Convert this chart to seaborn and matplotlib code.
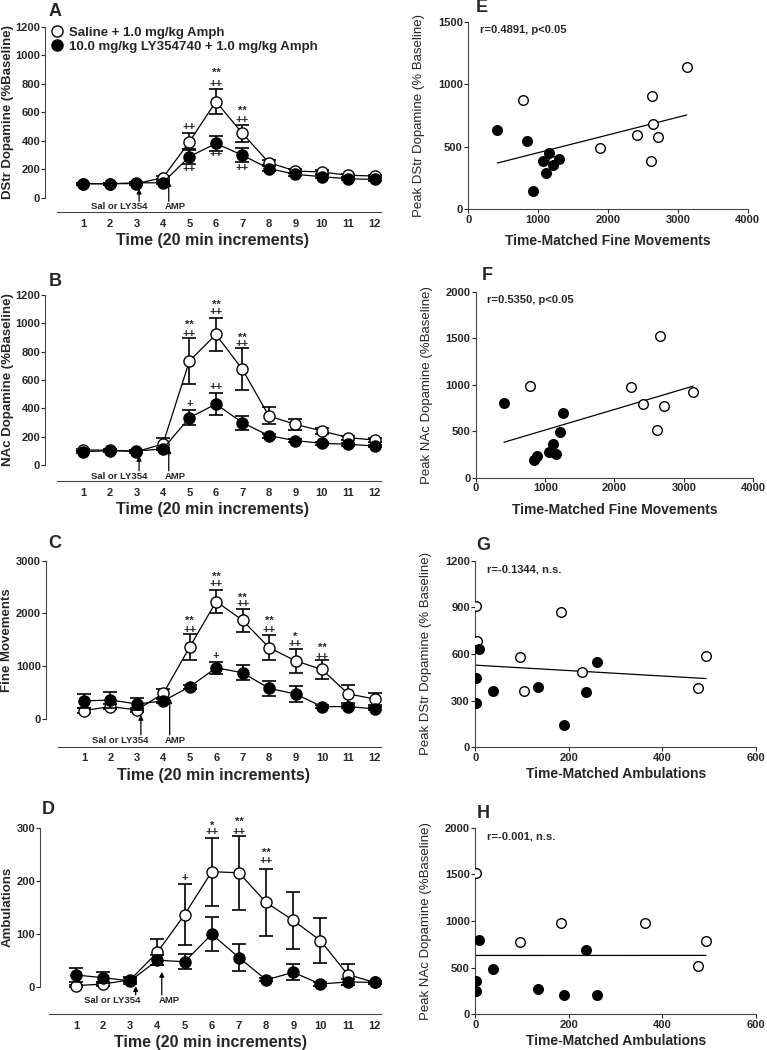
import numpy as np
import pandas as pd
import seaborn as sns
import matplotlib.pyplot as plt
from matplotlib.lines import Line2D

sns.set_style("ticks")
plt.rcParams['font.family'] = ['Liberation Sans', 'DejaVu Sans']
plt.rcParams['font.weight'] = 'bold'

# ---------------- data ----------------
time = list(range(1, 13))
groups = ["Saline + 1.0 mg/kg Amph", "10.0 mg/kg LY354740 + 1.0 mg/kg Amph"]

# A: DStr dopamine (% baseline)
dstr_sal = [99, 99, 100, 141, 393, 675, 452, 247, 188, 181, 158, 153]
dstr_sal_se = [8, 8, 8, 12, 60, 90, 58, 15, 12, 12, 10, 10]
dstr_ly = [99, 99, 105, 106, 289, 381, 299, 205, 165, 148, 134, 129]
dstr_ly_se = [8, 8, 8, 10, 50, 52, 50, 15, 12, 10, 10, 10]
dstr_marks = [(5, 494, "++"), (5, 200, "++"), (6, 878, "**"), (6, 800, "++"), (6, 306, "++"),
              (7, 612, "**"), (7, 548, "++"), (7, 212, "++")]

# B: NAc dopamine (% baseline)
nac_sal = [106, 104, 94, 148, 734, 922, 675, 346, 287, 240, 193, 176]
nac_sal_se = [10, 10, 10, 40, 160, 118, 148, 60, 38, 20, 15, 15]
nac_ly = [94, 101, 99, 113, 334, 430, 299, 207, 172, 153, 146, 134]
nac_ly_se = [8, 8, 8, 10, 54, 75, 50, 15, 12, 10, 10, 10]
nac_marks = [(5, 993, "**"), (5, 925, "++"), (5, 428, "+"), (6, 1129, "**"), (6, 1082, "++"),
             (6, 548, "++"), (7, 901, "**"), (7, 854, "++")]

# C: fine movements
fine_sal = [157, 233, 170, 484, 1365, 2226, 1868, 1352, 1101, 937, 472, 377]
fine_sal_se = [40, 50, 40, 90, 240, 220, 220, 230, 230, 175, 170, 107]
fine_ly = [340, 358, 283, 340, 610, 969, 874, 579, 472, 233, 233, 189]
fine_ly_se = [125, 150, 120, 40, 40, 110, 145, 138, 155, 30, 30, 30]
fine_marks = [(5, 1868, "**"), (5, 1692, "++"), (6, 2686, "**"), (6, 2560, "++"), (6, 1189, "+"),
              (7, 2296, "**"), (7, 2182, "++"), (8, 1868, "**"), (8, 1680, "++"),
              (9, 1553, "*"), (9, 1415, "++"), (10, 1346, "**"), (10, 1176, "++")]

# D: ambulations
amb_sal = [2, 5, 13, 65, 136, 217, 215, 159, 125, 87, 23, 8]
amb_sal_se = [2, 3, 5, 25, 57, 64, 70, 63, 54, 42, 19, 3]
amb_ly = [22, 17, 11, 50, 47, 99, 55, 13, 27, 5, 9, 8]
amb_ly_se = [14, 10, 5, 10, 14, 32, 26, 3, 15, 3, 5, 3]
amb_marks = [(5, 206, "+"), (6, 304, "*"), (6, 291, "++"), (7, 311, "**"), (7, 292, "++"),
             (8, 253, "**"), (8, 237, "++")]

# E: peak DStr DA vs fine movements
e_sal_x = [788, 1885, 2410, 2635, 2649, 2711, 2616, 3127, 1208]
e_sal_y = [873, 491, 592, 907, 681, 579, 384, 1140, 384]
e_ly_x = [415, 845, 1160, 1074, 1303, 1208, 1112, 921]
e_ly_y = [633, 547, 446, 387, 398, 352, 291, 147]

# F: peak NAc DA vs fine movements
f_sal_x = [779, 2245, 2413, 2654, 2716, 2620, 3135]
f_sal_y = [986, 978, 796, 1527, 774, 516, 921]
f_ly_x = [404, 1250, 1212, 1106, 1058, 1154, 875, 841]
f_ly_y = [799, 695, 495, 358, 272, 254, 233, 190]

# G: peak DStr DA vs ambulations
g_sal_x = [1, 3, 96, 104, 184, 229, 477, 493]
g_sal_y = [909, 684, 583, 364, 872, 484, 381, 589]
g_ly_x = [7, 1, 1, 38, 135, 190, 236, 261]
g_ly_y = [630, 444, 287, 364, 386, 144, 356, 546]

# H: peak NAc DA vs ambulations
h_sal_x = [1, 96, 184, 363, 477, 493]
h_sal_y = [1518, 775, 982, 982, 518, 789]
h_ly_x = [7, 1, 1, 38, 135, 190, 236, 261]
h_ly_y = [793, 357, 254, 489, 271, 207, 693, 207]


def time_panel(ax, sal, sal_se, ly, ly_se, marks, ytop, ystep, ybot, ylabel,
               arrows, text_y, xmin=-0.45, ylab_x=-0.1):
    df = pd.DataFrame({"time": time * 2, "value": sal + ly,
                       "se": sal_se + ly_se,
                       "group": [groups[0]] * 12 + [groups[1]] * 12})
    for g, face, z in [(groups[0], "white", 3), (groups[1], "black", 4)]:
        d = df[df.group == g]
        ax.errorbar(d.time, d.value, yerr=d.se, fmt="none", ecolor="black",
                    elinewidth=1.2, capsize=5, capthick=1.2, zorder=z - 1)
        sns.lineplot(data=d, x="time", y="value", ax=ax, color="black", lw=0.9,
                     marker="o", markersize=8, markerfacecolor=face,
                     markeredgecolor="black", markeredgewidth=1.0,
                     legend=False, zorder=z)
    for t, y, s in marks:
        ax.text(t, y, s, ha="center", va="center", fontsize=8, fontweight="bold")
    for x, tip in arrows:
        ax.annotate("", xy=(x, tip), xytext=(x, text_y + (ytop - ybot) * 0.03),
                    arrowprops=dict(arrowstyle="-|>", color="black", lw=0.9,
                                    mutation_scale=7, shrinkA=0, shrinkB=0))
    ax.text(2.35, text_y, "Sal or LY354", ha="center", va="center", fontsize=6.8,
            fontweight="bold")
    ax.text(4.45, text_y, "AMP", ha="center", va="center", fontsize=6.8,
            fontweight="bold")
    ax.set_xlim(xmin, 12.23)
    ax.set_ylim(ybot, ytop)
    ax.set_xticks(time)
    ax.set_yticks(np.arange(0, ytop + 1, ystep))
    sns.despine(ax=ax)
    ax.spines["left"].set_bounds(0, ytop)
    ax.spines["bottom"].set_bounds(0, 12.23)
    for sp in ["left", "bottom"]:
        ax.spines[sp].set_linewidth(0.8)
        ax.spines[sp].set_color("#444444")
    ax.tick_params(axis="both", labelsize=8, length=3, width=0.8, pad=0.5)
    ax.tick_params(axis="x", length=0, pad=5)
    ax.set_xlabel("Time (20 min increments)", fontsize=11.5, fontweight="bold", labelpad=3)
    ax.set_ylabel(ylabel, fontsize=9.5, fontweight="bold")
    ax.yaxis.set_label_coords(ylab_x, (0 - ybot) / (ytop - ybot) +
                              0.5 * ytop / (ytop - ybot))


def corr_panel(ax, sx, sy, lx, ly, xmax, xstep, ymax, ystep, ylabel, xlabel, rtext, xpad):
    xs = sx + lx
    ys = sy + ly
    sns.regplot(x=np.array(xs), y=np.array(ys), ax=ax, scatter=False, ci=None,
                color="black", line_kws=dict(lw=0.9))
    sns.scatterplot(x=sx, y=sy, ax=ax, s=48, facecolor="white", edgecolor="black",
                    linewidth=1.0, zorder=3)
    sns.scatterplot(x=lx, y=ly, ax=ax, s=48, color="black", edgecolor="black",
                    linewidth=1.0, zorder=4)
    ax.set_xlim(0, xmax)
    ax.set_ylim(0, ymax)
    ax.set_xticks(np.arange(0, xmax + 1, xstep))
    ax.set_yticks(np.arange(0, ymax + 1, ystep))
    sns.despine(ax=ax)
    for sp in ["left", "bottom"]:
        ax.spines[sp].set_linewidth(0.8)
        ax.spines[sp].set_color("#444444")
    ax.tick_params(axis="both", labelsize=8, length=3, width=0.8, pad=1)
    ax.set_xlabel(xlabel, fontsize=10, fontweight="bold", labelpad=xpad)
    ax.set_ylabel(ylabel, fontsize=9.5, fontweight="normal", labelpad=9)
    ax.text(0.04, 0.955, rtext, transform=ax.transAxes, ha="left", va="center",
            fontsize=8, fontweight="bold")


fig = plt.figure(figsize=(7.67, 10.5), dpi=100)

axA = fig.add_axes([0.0587, 0.798, 0.438, 0.1766])
axB = fig.add_axes([0.0587, 0.5422, 0.438, 0.1768])
axC = fig.add_axes([0.0596, 0.289, 0.437, 0.177])
axD = fig.add_axes([0.0522, 0.0343, 0.4446, 0.1774])

time_panel(axA, dstr_sal, dstr_sal_se, dstr_ly, dstr_ly_se, dstr_marks, 1200, 200, -100,
           "DStr Dopamine (%Baseline)", [(3.1, 64), (4.22, 118)], -64,
           ylab_x=(13.5 - 45) / 336)
time_panel(axB, nac_sal, nac_sal_se, nac_ly, nac_ly_se, nac_marks, 1200, 200, -111,
           "NAc Dopamine (%Baseline)", [(3.1, 64), (4.22, 118)], -80,
           ylab_x=(13.5 - 45) / 336)
time_panel(axC, fine_sal, fine_sal_se, fine_ly, fine_ly_se, fine_marks, 3000, 1000, -525,
           "Fine Movements", [(3.15, 75), (4.24, 390)], -409,
           ylab_x=(13.5 - 46) / 335)
time_panel(axD, amb_sal, amb_sal_se, amb_ly, amb_ly_se, amb_marks, 300, 100, -51.5,
           "Ambulations", [(3.2, 1), (4.16, 28)], -26, xmin=-0.32,
           ylab_x=(13.5 - 40) / 341)

handles = [Line2D([], [], ls="none", marker="o", markersize=8, markerfacecolor=f,
                  markeredgecolor="black", markeredgewidth=1.0) for f in ["white", "black"]]
leg = axA.legend(handles=handles, labels=groups,
                 loc="upper left", bbox_to_anchor=(0.0, 1.03), frameon=False,
                 fontsize=9.5, handlelength=1.0, handletextpad=0.4, borderaxespad=0,
                 labelspacing=0.15)
for t in leg.get_texts():
    t.set_fontweight("bold")

axE = fig.add_axes([0.6106, 0.801, 0.3643, 0.1784])
axF = fig.add_axes([0.6206, 0.545, 0.3611, 0.1771])
axG = fig.add_axes([0.6197, 0.2883, 0.366, 0.1777])
axH = fig.add_axes([0.6197, 0.034, 0.366, 0.1777])

corr_panel(axE, e_sal_x, e_sal_y, e_ly_x, e_ly_y, 4000, 1000, 1500, 500,
           "Peak DStr Dopamine (% Baseline)", "Time-Matched Fine Movements",
           "r=0.4891, p<0.05", 7)
corr_panel(axF, f_sal_x, f_sal_y, f_ly_x, f_ly_y, 4000, 1000, 2000, 500,
           "Peak NAc Dopamine (%Baseline)", "Time-Matched Fine Movements",
           "r=0.5350, p<0.05", 7)
corr_panel(axG, g_sal_x, g_sal_y, g_ly_x, g_ly_y, 600, 200, 1200, 300,
           "Peak DStr Dopamine (% Baseline)", "Time-Matched Ambulations",
           "r=-0.1344, n.s.", 3)
corr_panel(axH, h_sal_x, h_sal_y, h_ly_x, h_ly_y, 600, 200, 2000, 500,
           "Peak NAc Dopamine (%Baseline)", "Time-Matched Ambulations",
           "r=-0.001, n.s.", 3)

# panel letters (figure pixel positions)
for letter, x, y in [("A", 55, 12), ("B", 55, 282), ("C", 55, 543), ("D", 48, 810),
                     ("E", 482, 8), ("F", 487, 275), ("G", 483, 545), ("H", 483, 813)]:
    fig.text(x / 767, 1 - y / 1050, letter, ha="center", va="center", fontsize=13,
             fontweight="bold")

fig.savefig("out.png", dpi=100)
